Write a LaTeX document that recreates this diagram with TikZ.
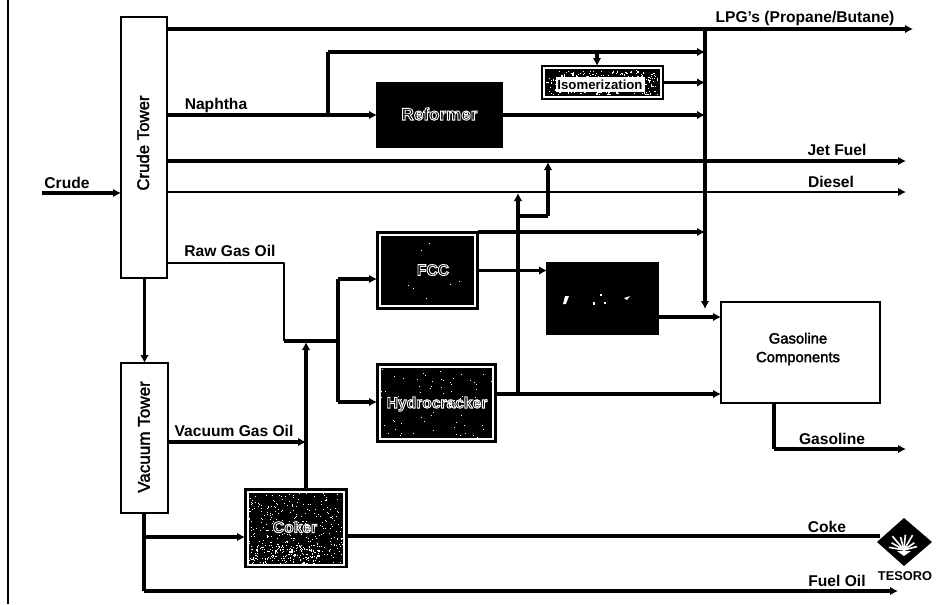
\documentclass[tikz,border=0pt]{standalone}
\usepackage{fontspec}
\setmainfont{Liberation Sans}
\usetikzlibrary{arrows.meta,calc}
\newcommand{\haloText}[1]{\special{pdf:code q 2 Tr 1 1 1 RG 0.7 w}#1\special{pdf:code Q}}
\newcommand{\semiText}[1]{\special{pdf:code q 2 Tr 0 0 0 RG 0.25 w}#1\special{pdf:code Q}}
\newcommand{\speckle}[6]{% x0 y0 w h count size
  \foreach \ii in {1,...,#5}{%
    \pgfmathsetmacro{\sx}{#1+rnd*#3}\pgfmathsetmacro{\sy}{#2+rnd*#4}%
    \fill[white] (\sx,\sy) rectangle ++(#6,#6);}}
\tikzset{
  pxbox/.style 2 args={draw=black,line width=2pt,inner sep=0pt,outer sep=0pt,minimum width=#1*0.75pt,minimum height=#2*0.75pt},
  whitebox/.style={fill=white},
  darkbox/.style={fill=black},
  lab/.style={font=\fontsize{11.7pt}{13pt}\selectfont\bfseries,inner sep=0pt,text=black},
  towerlab/.style={inner sep=0pt,rotate=90},
  flow/.style={line width=1.75pt,-{Latex[length=6pt,width=6.5pt]},line join=round},
  plain/.style={line width=1.75pt,line join=round},
  heavy/.style={line width=2.3pt}
}
\begin{document}
\begin{tikzpicture}[x=0.75pt,y=-0.75pt]
\useasboundingbox (0,0) rectangle (950,604);
\pgfmathsetseed{4217}
% frame line
\coordinate (frameT) at (8,0); \coordinate (frameB) at (8,604);
\draw[line width=2.2pt] (frameT) -- (frameB);
% free ends and junctions
\coordinate (lpgEnd) at (913,29);
\coordinate (trunkEnd) at (705,309);
\coordinate (jetEnd) at (906,161);
\coordinate (dieselEnd) at (906,192);
\coordinate (crudeStart) at (42,193);
\coordinate (fuelEnd) at (898,591);
\coordinate (gasEnd) at (906,449);
\coordinate (forkIn) at (338,341);
\coordinate (trunkTop) at (705,29);
\coordinate (napBranch) at (328,115);
\coordinate (lightTop) at (328,52);
\coordinate (crackUp) at (518,394);
\coordinate (crackTop) at (518,193);
\coordinate (jetUpA) at (518,216);
\coordinate (jetUpB) at (548,216);
\coordinate (jetUpTop) at (548,162);
\coordinate (rawDownA) at (284,263);
\coordinate (rawDownB) at (284,341);
\coordinate (vacStem) at (144,591);
\coordinate (cokerJoin) at (144,537);
\coordinate (logoIn) at (880,536);
% boxes
\node[pxbox={46}{261},whitebox] (crude) at (144,147.5) {};
\node[pxbox={47}{150},whitebox] (vacuum) at (144.5,438) {};
\node[pxbox={125}{64},darkbox] (reformer) at (439.5,115) {};
\node[pxbox={121}{33},whitebox] (iso) at (602.5,82.5) {};
\node[pxbox={101}{77},darkbox] (fcc) at (427.5,270.5) {};
\node[pxbox={111}{71},darkbox] (alky) at (602.5,298.5) {};
\node[pxbox={119}{78},darkbox] (hydro) at (436.5,403) {};
\node[pxbox={102}{78},darkbox] (coker) at (296,528) {};
\node[draw=black,line width=1pt,fill=white,minimum width=119.25pt,minimum height=75.75pt,inner sep=0pt,outer sep=0pt] (gasoline) at (800.5,352.5) {};
% box textures
\draw[white,line width=0.8pt] (380,235) rectangle (475,306);
\draw[white,line width=0.8pt] (380,367) rectangle (493,439);
\draw[white,line width=0.8pt] (248,492) rectangle (344,565);
\fill[black] (545,69) rectangle (660,96);
\speckle{546}{70}{112}{24}{260}{1.2}
\fill[white] (556,77) rectangle (645,92);
\speckle{380}{366}{113}{74}{70}{1}
\speckle{248}{492}{96}{72}{320}{1}
\speckle{250}{545}{70}{20}{130}{1.2}
\speckle{380}{235}{95}{70}{8}{1.0}
\fill[white] (565,296) -- (569,296) -- (566,304) -- (563,304) -- cycle;
\fill[white] (593,302) rectangle ++(2,3);
\fill[white] (600,294) rectangle ++(2,2);
\fill[white] (604,302) rectangle ++(2,2);
\fill[white] (624,298) -- (630,296) -- (627,300) -- cycle;
% connectors
\draw[plain,heavy] (crude.east |- lpgEnd) -- (trunkTop);
\draw[flow,heavy] (trunkTop) -- (lpgEnd);
\draw[flow,heavy] (trunkTop) -- (trunkEnd);
\draw[plain,heavy] (crude.east |- napBranch) -- (napBranch);
\draw[flow,heavy] (napBranch) -- (reformer.west);
\draw[plain,heavy] (napBranch) -- (lightTop);
\draw[flow,heavy] (lightTop) -- (lightTop -| trunkTop);
\draw[flow,heavy] (597,52) -- (iso.north -| 597,0);
\draw[flow,heavy] (iso.east) -- (iso.east -| trunkTop);
\draw[flow,heavy] (reformer.east) -- (reformer.east -| trunkTop);
\draw[flow,heavy] (crude.east |- jetEnd) -- (jetEnd);
\draw[flow] (crude.east |- dieselEnd) -- (dieselEnd);
\draw[flow,heavy] (crudeStart) -- (crude.west |- crudeStart);
\draw[plain] (crude.east |- rawDownA) -- (rawDownA) -- (rawDownB);
\draw[plain,heavy] (rawDownB) -- (forkIn);
\draw[flow,heavy] (crude.south -| vacuum.north) -- (vacuum.north);
\draw[flow,heavy] (vacuum.east |- 0,442) -- (306,442);
\draw[flow,heavy] (coker.north -| 306,0) -- (306,342);
\draw[plain,heavy] (forkIn) ++(0,-62) coordinate (forkTop) -- (forkIn |- 0,402) coordinate (forkBot);
\draw[flow,heavy] (forkTop) -- (fcc.west |- forkTop);
\draw[flow,heavy] (forkBot) -- (hydro.west |- forkBot);
\draw[flow,heavy] (fcc.north east) -- (fcc.north east -| trunkTop);
\draw[flow,heavy] (fcc.east) -- (alky.west |- fcc.east);
\draw[flow,heavy] (alky.east |- 0,317) -- (gasoline.west |- 0,317);
\draw[flow,heavy] (hydro.east |- crackUp) -- (gasoline.west |- crackUp);
\draw[flow,heavy] (crackUp) -- (crackTop);
\draw[plain,heavy] (jetUpA) -- (jetUpB);
\draw[flow,heavy] (jetUpB) -- (jetUpTop);
\draw[plain,heavy] (gasoline.south -| 774,0) -- (774,449);
\draw[flow,heavy] (774,449) -- (gasEnd);
\draw[plain,heavy] (vacuum.south -| vacStem) -- (vacStem);
\draw[flow,heavy] (vacStem) -- (fuelEnd);
\draw[flow,heavy] (cokerJoin) -- (coker.west |- cokerJoin);
\draw[plain,heavy] (coker.east |- logoIn) -- (logoIn);
% logo
\fill[black] (877,542) -- (904,518) -- (932,542) -- (904,566) -- cycle;
\foreach \a/\r in {-170/17,-150/16,-130/20,-105/15,-85/17,-60/19,-35/14,-15/15}{
  \draw[white,line width=1.2pt] (904,550) -- ++(\a:\r*0.9);
}
\fill[white] (897,551) -- (911,551) -- (904,556) -- cycle;
\node[lab,font=\fontsize{9.6pt}{11pt}\selectfont\bfseries] (tesoro) at (905,576) {TESORO};
% labels
\node[lab] (tLpg) at (805,18) {LPG's (Propane/Butane)};
\node[lab] (tJet) at (837,150) {Jet Fuel};
\node[lab] (tDiesel) at (831,182) {Diesel};
\node[lab] (tCrude) at (67,183) {Crude};
\node[lab] (tNaphtha) at (216,105) {Naphtha};
\node[lab] (tRaw) at (230,251) {Raw Gas Oil};
\node[lab] (tVac) at (234,431) {Vacuum Gas Oil};
\node[lab] (tGasl) at (832,439) {Gasoline};
\node[lab] (tCoke) at (827,527) {Coke};
\node[lab] (tFuel) at (837,581) {Fuel Oil};
\node[towerlab,font=\fontsize{12.6pt}{14pt}\selectfont] (tCrudeT) at (143,143) {\semiText{Crude Tower}};
\node[towerlab,font=\fontsize{12.8pt}{14pt}\selectfont] (tVacT) at (144,437) {\semiText{Vacuum Tower}};
\node[font=\fontsize{11.1pt}{14pt}\selectfont,align=center,inner sep=0pt] (tGasC) at (798,349) {\semiText{Gasoline}\\\semiText{Components}};
\node[lab,font=\fontsize{12.8pt}{14pt}\selectfont\bfseries] (tRef) at (439.5,114) {\haloText{Reformer}};
\node[lab] (tFcc) at (433,270) {\haloText{FCC}};
\node[lab] (tHyd) at (437,404) {\haloText{Hydrocracker}};
\node[lab] (tCok) at (295,527) {\haloText{Coker}};
\node[font=\fontsize{9.9pt}{12pt}\selectfont\bfseries,inner sep=0pt] (tIso) at (600,85) {Isomerization};
\end{tikzpicture}
\end{document}
